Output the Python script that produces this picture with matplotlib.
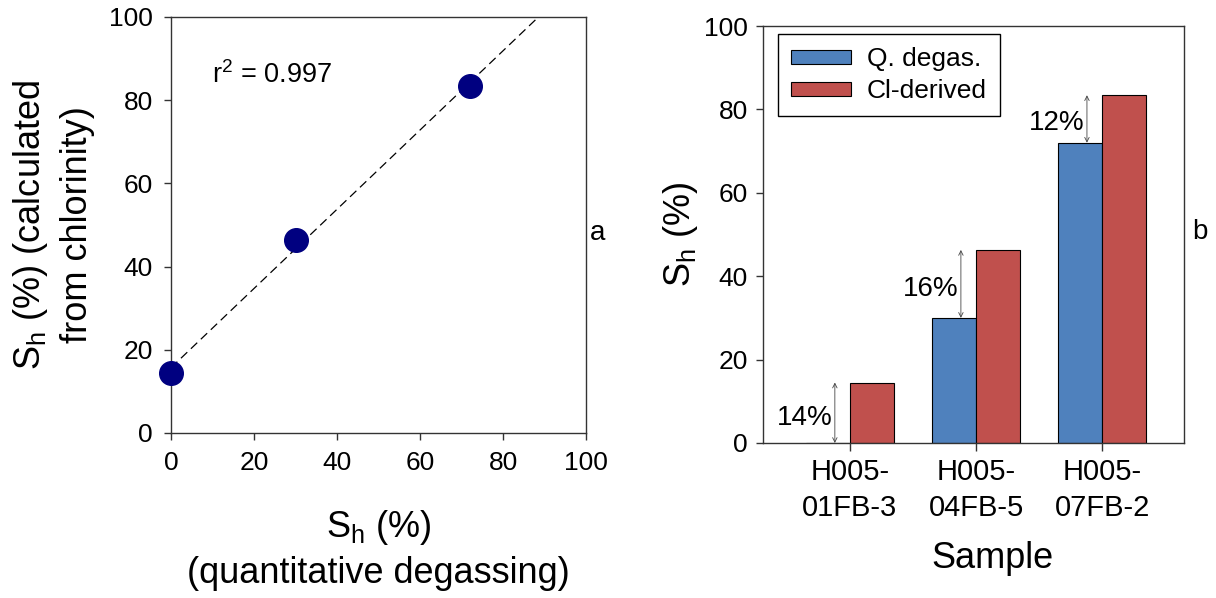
import numpy as np
import matplotlib
matplotlib.use("Agg")
import matplotlib.pyplot as plt
from matplotlib.transforms import ScaledTranslation

plt.rcParams['font.family'] = ['Liberation Sans', 'DejaVu Sans']
plt.rcParams['mathtext.fontset'] = 'custom'
plt.rcParams['mathtext.rm'] = 'Liberation Sans'
plt.rcParams['mathtext.it'] = 'Liberation Sans'
plt.rcParams['mathtext.default'] = 'regular'

# ---- data ----
sh_degas = [0, 30, 72]          # quantitative degassing (%)
sh_chlor = [14.5, 46.3, 83.4]   # calculated from chlorinity (%)
r2_text = "r$^{2}$ = 0.997"

samples = ["H005-\n01FB-3", "H005-\n04FB-5", "H005-\n07FB-2"]
q_degas = [0, 30, 72]
cl_derived = [14.5, 46.3, 83.4]
diff_labels = ["14%", "16%", "12%"]
ticks = [0, 20, 40, 60, 80, 100]

W, H = 1216, 598
fig = plt.figure(figsize=(W / 100, H / 100), dpi=100)

def rect(l, t, r, b):
    return [l / W, 1 - b / H, (r - l) / W, (b - t) / H]

spine_c = '#333333'

# ---- panel a ----
ax1 = fig.add_axes(rect(171, 17, 586, 433))
ax1.set_xlim(0, 100)
ax1.set_ylim(0, 100)
slope, icpt = np.polyfit(sh_degas, sh_chlor, 1)
xl = np.array([0, (100 - icpt) / slope])
ax1.plot(xl, slope * xl + icpt, color='black', lw=0.9, dashes=(7, 4), zorder=2)
ax1.plot(sh_degas, sh_chlor, 'o', color='#000080', ms=17, zorder=3, clip_on=False)
ax1.text(10, 86, r2_text, fontsize=19.5, ha='left', va='center')
ax1.set_xticks(ticks)
ax1.set_yticks(ticks)
ax1.tick_params(direction='out', length=5, width=1, labelsize=19, pad=8, color=spine_c)
ax1.set_xlabel("S$_{h}$ (%)\n(quantitative degassing)", fontsize=26, labelpad=24, linespacing=1.33)
ax1.set_ylabel("S$_{h}$ (%) (calculated\nfrom chlorinity)", fontsize=26, labelpad=10, linespacing=1.37)
for s in ax1.spines.values():
    s.set_color(spine_c)
    s.set_linewidth(1)
fig.text(598 / W, 1 - 233 / H, "a", fontsize=20, ha='center', va='center')

# ---- panel b ----
ax2 = fig.add_axes(rect(763, 26, 1184, 443))
x = np.arange(len(samples))
bw = 0.35
ax2.bar(x - bw / 2, q_degas, bw, color='#4F81BD', edgecolor='black', lw=0.8, label='Q. degas.')
ax2.bar(x + bw / 2, cl_derived, bw, color='#C0504D', edgecolor='black', lw=0.8, label='Cl-derived')
ax2.set_xlim(-0.69, 2.65)
ax2.set_ylim(0, 100)
ax2.set_yticks(ticks)
ax2.set_xticks(x)
ax2.set_xticklabels(samples, fontsize=21, linespacing=1.35)
shift = ScaledTranslation(9 / 100, 0, fig.dpi_scale_trans)
for lab in ax2.get_xticklabels():
    lab.set_transform(lab.get_transform() + shift)
ax2.tick_params(axis='y', direction='out', length=5, width=1, labelsize=19, pad=6, color=spine_c)
ax2.tick_params(axis='x', direction='out', length=6, width=1, pad=5, color=spine_c)
ax2.set_xlabel("Sample", fontsize=26, labelpad=14)
ax2.xaxis.label.set_x(0.545)
ax2.set_ylabel("S$_{h}$ (%)", fontsize=26, labelpad=3)
for s in ax2.spines.values():
    s.set_color(spine_c)
    s.set_linewidth(1)

for i, (lo, hi, lab) in enumerate(zip(q_degas, cl_derived, diff_labels)):
    xa = i - 0.12
    ax2.annotate('', xy=(xa, hi), xytext=(xa, lo),
                 arrowprops=dict(arrowstyle='<->', color='#444444', lw=0.6,
                                 mutation_scale=8, shrinkA=0, shrinkB=0))
    ax2.text(xa - 0.02, lo + 0.42 * (hi - lo), lab, fontsize=20, ha='right', va='center')

leg = ax2.legend(loc='upper left', fontsize=19, frameon=True, fancybox=False,
                 edgecolor='black', framealpha=1, handlelength=2.25, handleheight=0.45,
                 labelspacing=0.3, borderpad=0.5, handletextpad=0.6, borderaxespad=0,
                 bbox_to_anchor=(0.036, 0.981))
leg.get_frame().set_linewidth(1)
fig.text(1200 / W, 1 - 232 / H, "b", fontsize=20, ha='center', va='center')

fig.savefig("out.png", dpi=100)
